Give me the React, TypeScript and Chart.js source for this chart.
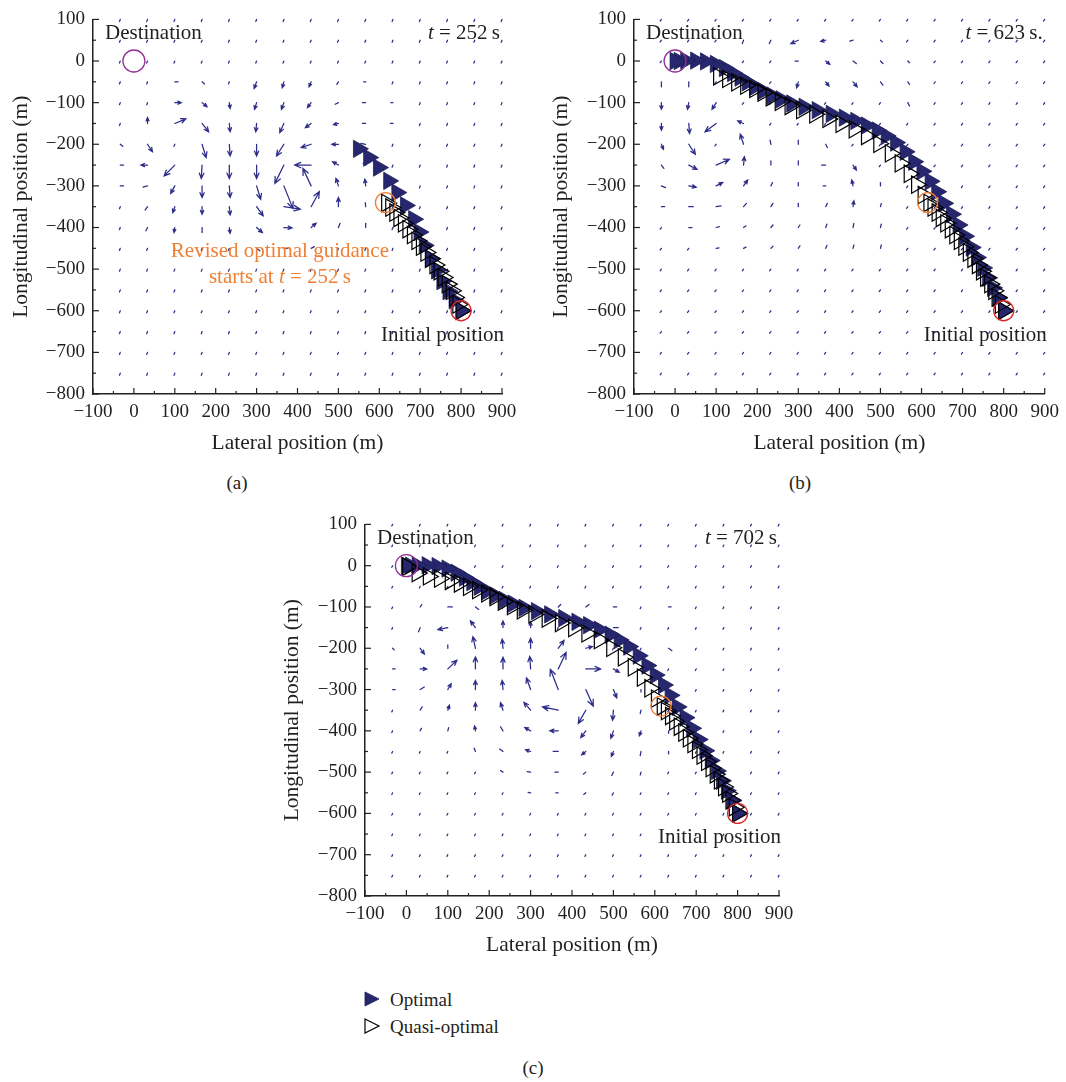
import React, { useEffect, useRef } from 'react';
import { Chart, registerables } from 'chart.js';

Chart.register(...registerables);

const FONT = "'Liberation Serif', 'Times New Roman', serif";
const TEXT = '#231f20';
const NAVY = '#272770';
const ARROW = '#2c2c8a';
const ORANGE = '#ef7f32';
const PURPLE = '#923192';
const RED = '#d62a2a';

// ---- axis ticks ----
const xMin = -100, xMax = 900, xStep = 100;
const yMin = -800, yMax = 100, yStep = 100;

// ---- wind-field sample grid ----
const fieldX = [-33.3, 33.3, 100, 166.7, 233.3, 300, 366.7, 433.3, 500, 566.7, 633.3, 700, 766.7, 833.3, 900];
const fieldY = [100, 50, 0, -50, -100, -150, -200, -250, -300, -350, -400, -450, -500, -550, -600, -650, -700, -750];

// wind vectors [x, y, u, v] (m); other grid points are small drift dots
const windA = [
  [100, -50, 8, 0], [166.7, -50, 6, -5], [300, -50, -6, -16], [366.7, -50, -4, -14], [433.3, -50, -5, -12], [500, -50, -4, -6], [566.7, -50, -5, 0],
  [100, -100, 16, 0], [166.7, -100, 12, -10], [233.3, -100, 2, -14], [300, -100, -5, -16], [366.7, -100, -6, -16], [433.3, -100, -9, -12], [500, -100, -8, -4], [566.7, -100, -8, 0], [633.3, -100, -5, 0],
  [33.3, -150, 0, 14], [100, -150, 27, 11], [166.7, -150, 16, -20], [233.3, -150, 2, -20], [300, -150, -2, -20], [366.7, -150, -10, -22], [433.3, -150, -14, -10], [500, -150, -12, -3], [566.7, -150, -8, 0], [633.3, -150, -6, 0],
  [-33.3, -200, 6, -5], [33.3, -200, 12, -18], [166.7, -200, 10, -32], [233.3, -200, 2, -28], [300, -200, 0, -28], [366.7, -200, -18, -28], [433.3, -200, -24, -8], [500, -200, -16, 0], [566.7, -200, -12, 2],
  [-33.3, -250, 8, 0], [33.3, -250, -16, 0], [100, -250, -26, -26], [166.7, -250, -2, -32], [233.3, -250, 0, -32], [300, -250, 0, -32], [366.7, -250, -22, -44], [433.3, -250, -40, 0], [500, -250, -14, 8], [566.7, -250, -6, 4],
  [-33.3, -300, 8, 0], [33.3, -300, -11, -3], [100, -300, -10, -18], [166.7, -300, 0, -28], [233.3, -300, 2, -28], [300, -300, 10, -32], [366.7, -300, 22, -54], [433.3, -300, -20, 42], [500, -300, -6, 18], [566.7, -300, -2, 16],
  [33.3, -350, -6, -8], [100, -350, -5, -14], [166.7, -350, 0, -18], [233.3, -350, 2, -20], [300, -350, 16, -22], [366.7, -350, 40, -6], [433.3, -350, 20, 36], [500, -350, 0, 22], [566.7, -350, -1, 10],
  [33.3, -400, -4, -8], [100, -400, -2, -12], [166.7, -400, 0, -12], [233.3, -400, 2, -14], [300, -400, 14, -12], [366.7, -400, 20, -1], [433.3, -400, 12, 10], [500, -400, 4, 10], [566.7, -400, 0, 10],
  [300, -450, 8, -6], [366.7, -450, 10, 0], [433.3, -450, 8, 4],
];
const windB = [
  [166.7, 50, -3, -8], [233.3, 50, -4, -8], [300, 50, -18, -8], [366.7, 50, -12, -3], [433.3, 50, -8, -2], [500, 50, 5, -4],
  [300, 0, -8, 0], [366.7, 0, 10, -8], [433.3, 0, 8, -6], [500, 0, 6, -6], [566.7, 0, 4, -4],
  [-33.3, -50, 0, -12], [33.3, -50, 0, -12], [300, -50, -4, -14], [366.7, -50, 8, -10], [433.3, -50, 10, -12], [500, -50, 6, -8], [566.7, -50, 4, -6],
  [-33.3, -100, 0, -16], [33.3, -100, -3, -16], [100, -100, -10, -16], [566.7, -100, 4, -8],
  [-33.3, -150, 0, -16], [33.3, -150, 2, -24], [100, -150, -27, -20], [166.7, -150, -14, 6],
  [-33.3, -200, 5, -12], [33.3, -200, 16, -24], [166.7, -200, -8, 24], [233.3, -200, -2, 10], [300, -200, 0, 10], [366.7, -200, 4, -8],
  [-33.3, -250, 6, -8], [33.3, -250, 20, -10], [100, -250, 32, 14], [166.7, -250, 2, 20], [233.3, -250, 0, 10], [300, -250, 0, 10], [366.7, -250, -10, 0], [433.3, -250, 8, -12],
  [-33.3, -300, 10, -4], [33.3, -300, 18, -3], [100, -300, 16, 8], [166.7, -300, 10, 14], [233.3, -300, 4, 8], [300, -300, 0, 8], [366.7, -300, -6, 0], [433.3, -300, -3, 14], [500, -300, 0, 8],
  [-33.3, -350, 8, 0], [33.3, -350, 11, 0], [100, -350, 12, 2], [166.7, -350, 7, 8], [233.3, -350, 5, 8], [300, -350, 0, 8], [366.7, -350, 4, 8], [433.3, -350, 2, 14], [500, -350, 2, 8],
  [33.3, -400, 8, 0], [100, -400, 8, 2], [166.7, -400, 6, 4], [233.3, -400, 5, 6], [300, -400, 4, 6], [366.7, -400, 3, 8], [433.3, -400, 2, 10], [500, -400, 2, 8],
  [100, -450, 7, 1], [166.7, -450, 6, 3], [233.3, -450, 5, 5], [300, -450, 4, 6], [366.7, -450, 3, 7], [433.3, -450, 2, 8], [500, -450, 2, 8],
];
const windC = [
  [33.3, -100, 4, 6], [100, -100, 11, 0], [166.7, -100, 8, -6], [366.7, -100, 6, 6], [433.3, -100, 8, 6], [500, -100, 8, 0], [633.3, -100, 6, 0],
  [33.3, -150, -4, -10], [100, -150, -24, -5], [166.7, -150, -12, 16], [233.3, -150, 0, 16], [300, -150, 0, 14], [500, -150, 12, 0],
  [-33.3, -200, 4, -4], [33.3, -200, 10, -14], [100, -200, 0, 8], [166.7, -200, -6, 28], [233.3, -200, -2, 22], [300, -200, 0, 24], [366.7, -200, 14, 19], [433.3, -200, 16, 4], [633.3, -200, 8, -6],
  [-33.3, -250, 6, 0], [33.3, -250, 16, 0], [100, -250, 22, 21], [166.7, -250, 0, 29], [233.3, -250, 0, 28], [300, -250, -2, 30], [366.7, -250, 19, 40], [433.3, -250, 36, 0], [500, -250, 14, -8],
  [-33.3, -300, 6, 0], [33.3, -300, 10, 6], [100, -300, 8, 14], [166.7, -300, 0, 22], [233.3, -300, -2, 22], [300, -300, -10, 28], [366.7, -300, -19, 49], [433.3, -300, 18, -40], [500, -300, 8, -20], [566.7, -300, 0, -6],
  [33.3, -350, 5, 8], [100, -350, 4, 12], [166.7, -350, 0, 18], [233.3, -350, -6, 18], [300, -350, -16, 19], [366.7, -350, -38, 8], [433.3, -350, -18, -32], [500, -350, -2, -24], [566.7, -350, -2, -8],
  [33.3, -400, 3, 6], [100, -400, 2, 8], [166.7, -400, -2, 12], [233.3, -400, -6, 10], [300, -400, -14, 8], [366.7, -400, -20, 0], [433.3, -400, -12, -16], [500, -400, -6, -18], [566.7, -400, -4, -12], [633.3, -400, 0, -6],
  [166.7, -450, -3, 8], [233.3, -450, -8, 6], [300, -450, -12, 4], [366.7, -450, -12, 0], [433.3, -450, -10, -8], [500, -450, -5, -12], [566.7, -450, -2, -10], [633.3, -450, 0, -6],
  [233.3, -500, -6, 4], [300, -500, -8, 1], [366.7, -500, -8, 0], [433.3, -500, -6, -5], [500, -500, -4, -8], [566.7, -500, -2, -7],
  [300, -550, -6, 1], [366.7, -550, -6, 0], [433.3, -550, -5, -4], [500, -550, -3, -6],
];
const driftA = [-2, -5];
const driftB = [-3, -4];
const driftC = [-2, -4];

// ---- trajectories ----
const optimalAX = [800, 783, 768, 753, 740, 725, 710, 697, 684, 664, 643, 623, 598, 574, 549];
const optimalAY = [-600, -575, -553, -529, -503, -475, -443, -411, -380, -347, -316, -288, -256, -232, -211];

const optimalX = [800, 786, 773, 761, 749, 734, 721, 705, 689, 673, 654, 637, 621, 601, 581, 560, 537, 514, 492, 466, 440, 412, 380, 346, 314, 284, 258, 236, 214, 194, 176, 158, 140, 120, 98, 74, 50, 26, 10, 0];
const optimalY = [-600, -569, -545, -521, -497, -472, -448, -421, -394, -368, -342, -314, -289, -265, -242, -218, -196, -180, -167, -155, -144, -136, -127, -118, -110, -102, -92, -83, -72, -62, -51, -40, -29, -17, -7, -1, 1, 1, 0, 0];

const quasiStartX = [800, 792, 784, 776, 766, 756, 746, 736, 725, 714, 703, 692, 681, 670, 659, 648, 638, 628, 618];
const quasiStartY = [-600, -585, -568, -552, -536, -520, -505, -490, -475, -460, -446, -432, -418, -404, -390, -377, -364, -352, -341];
const quasiUpperX = [604, 588, 570, 548, 524, 496, 466, 436, 404, 372, 340, 308, 280, 256, 234, 214, 194, 172, 150, 128, 106];
const quasiUpperY = [-322, -297, -271, -246, -222, -199, -180, -164, -151, -139, -128, -118, -108, -98, -87, -76, -67, -59, -51, -43, -37];
const quasiTailX = [80, 53, 26, 3];
const quasiTailY = [-31, -26, -18, -2];

const destination = [0, 0];
const switchPoint = [615, -340];
const initialPoint = [800, -600];

// ---- helpers ----
const pts = (xs: number[], ys: number[]) => xs.map((x, i) => ({ x, y: ys[i] }));
const fmt = (v: any) => { const n = Number(v); return n < 0 ? '\u2212' + Math.abs(n) : String(n); };

function drawArrow(ctx: CanvasRenderingContext2D, x0: number, y0: number, x1: number, y1: number) {
  const dx = x1 - x0, dy = y1 - y0;
  const len = Math.hypot(dx, dy);
  ctx.beginPath();
  ctx.moveTo(x0, y0);
  ctx.lineTo(x1, y1);
  if (len > 5) {
    const a = Math.atan2(dy, dx);
    const h = Math.min(2 + len * 0.28, 7);
    const s = 0.42;
    ctx.moveTo(x1 - h * Math.cos(a - s), y1 - h * Math.sin(a - s));
    ctx.lineTo(x1, y1);
    ctx.lineTo(x1 - h * Math.cos(a + s), y1 - h * Math.sin(a + s));
  }
  ctx.stroke();
}

function makeQuiver(arrows: number[][], drift: number[]) {
  return {
    id: 'quiver',
    beforeDatasetsDraw(chart: any) {
      const { ctx, scales: { x, y } } = chart;
      ctx.save();
      ctx.strokeStyle = ARROW;
      ctx.lineWidth = 1.25;
      ctx.lineCap = 'round';
      for (const gy of fieldY) {
        for (const gx of fieldX) {
          const a = arrows.find(r => Math.abs(r[0] - gx) < 1 && Math.abs(r[1] - gy) < 1);
          const u = a ? a[2] : drift[0];
          const v = a ? a[3] : drift[1];
          drawArrow(ctx, x.getPixelForValue(gx), y.getPixelForValue(gy), x.getPixelForValue(gx + u), y.getPixelForValue(gy + v));
        }
      }
      ctx.restore();
    },
  };
}

const inwardTicks = {
  id: 'inwardTicks',
  afterDraw(chart: any) {
    const { ctx, chartArea: a, scales: { x, y } } = chart;
    ctx.save();
    ctx.strokeStyle = '#222';
    ctx.lineWidth = 1.2;
    const seg = (x0: number, y0: number, x1: number, y1: number) => { ctx.beginPath(); ctx.moveTo(x0, y0); ctx.lineTo(x1, y1); ctx.stroke(); };
    const xt = x.ticks.map((t: any) => t.value);
    xt.forEach((v: number, i: number) => {
      const p = x.getPixelForValue(v);
      seg(p, a.bottom, p, a.bottom - 6);
      if (i < xt.length - 1) { const m = x.getPixelForValue((v + xt[i + 1]) / 2); seg(m, a.bottom, m, a.bottom - 3); }
    });
    const yt = y.ticks.map((t: any) => t.value);
    yt.forEach((v: number, i: number) => {
      const p = y.getPixelForValue(v);
      seg(a.left, p, a.left + 6, p);
      if (i < yt.length - 1) { const m = y.getPixelForValue((v + yt[i + 1]) / 2); seg(a.left, m, a.left + 3, m); }
    });
    ctx.restore();
  },
};

type Seg = { t: string; i?: boolean };
function drawRich(ctx: CanvasRenderingContext2D, segs: Seg[], x: number, y: number, align: string, size: number, color: string) {
  const widths = segs.map(s => { ctx.font = `${s.i ? 'italic ' : ''}${size}px ${FONT}`; return ctx.measureText(s.t).width; });
  const total = widths.reduce((p, c) => p + c, 0);
  let cx = align === 'left' ? x : align === 'right' ? x - total : x - total / 2;
  ctx.textAlign = 'left';
  ctx.textBaseline = 'alphabetic';
  ctx.fillStyle = color;
  segs.forEach((s, i) => {
    ctx.font = `${s.i ? 'italic ' : ''}${size}px ${FONT}`;
    ctx.fillText(s.t, cx, y);
    cx += widths[i];
  });
}

function makeLabels(timeText: string, revised: boolean) {
  return {
    id: 'labels',
    afterDraw(chart: any) {
      const { ctx, chartArea: a, scales: { x, y } } = chart;
      ctx.save();
      drawRich(ctx, [{ t: 'Destination' }], a.left + 12, a.top + 19.5, 'left', 21, TEXT);
      drawRich(ctx, [{ t: 't', i: true }, { t: ' = ' + timeText }], a.right - 2, a.top + 19.5, 'right', 21, TEXT);
      drawRich(ctx, [{ t: 'Initial position' }], x.getPixelForValue(900) + 2, y.getPixelForValue(-672), 'right', 21, TEXT);
      if (revised) {
        drawRich(ctx, [{ t: 'Revised optimal guidance' }], x.getPixelForValue(357), y.getPixelForValue(-470), 'center', 21, ORANGE);
        drawRich(ctx, [{ t: 'starts at ' }, { t: 't', i: true }, { t: ' = 252\u2009s' }], x.getPixelForValue(357), y.getPixelForValue(-534), 'center', 21, ORANGE);
      }
      ctx.restore();
    },
  };
}

function buildConfig(opt: any[], quasi: any[], arrows: number[][], drift: number[], timeText: string, revised: boolean, pad: any, yWidth: number) {
  const circle = (p: number[], color: string, r: number) => ({
    data: [{ x: p[0], y: p[1] }],
    pointStyle: 'circle', pointRadius: r, pointBackgroundColor: 'rgba(0,0,0,0)',
    pointBorderColor: color, pointBorderWidth: 1.3, showLine: false, clip: false,
  });
  return {
    type: 'scatter',
    data: {
      datasets: [
        circle(destination, PURPLE, 11),
        circle(switchPoint, ORANGE, 10),
        circle(initialPoint, RED, 10),
        {
          data: quasi, pointStyle: 'triangle', pointRotation: 90, pointRadius: 10,
          pointBackgroundColor: 'rgba(255,255,255,0)', pointBorderColor: '#000', pointBorderWidth: 1.2, showLine: false, clip: false,
        },
        {
          data: opt, pointStyle: 'triangle', pointRotation: 90, pointRadius: 10,
          pointBackgroundColor: NAVY, pointBorderColor: '#1d1d55', pointBorderWidth: 0.8, showLine: false, clip: false,
        },
      ],
    },
    options: {
      responsive: false,
      animation: false,
      events: [],
      layout: { padding: pad },
      plugins: { legend: { display: false }, tooltip: { enabled: false } },
      scales: {
        x: {
          type: 'linear', min: xMin, max: xMax,
          ticks: { stepSize: xStep, color: TEXT, font: { family: FONT, size: 19 }, padding: 7, callback: fmt, maxRotation: 0, autoSkip: false },
          grid: { display: false, drawTicks: false },
          border: { display: true, color: '#222', width: 1.5 },
          title: { display: true, text: 'Lateral position (m)', color: TEXT, font: { family: FONT, size: 21.5 }, padding: { top: 0, bottom: 0 } },
          afterFit: (s: any) => { s.height = 62; },
        },
        y: {
          type: 'linear', min: yMin, max: yMax,
          ticks: { stepSize: yStep, color: TEXT, font: { family: FONT, size: 19 }, padding: 8, callback: fmt, autoSkip: false },
          grid: { display: false, drawTicks: false },
          border: { display: true, color: '#222', width: 1.5 },
          title: { display: true, text: 'Longitudinal position (m)', color: TEXT, font: { family: FONT, size: 21.5 }, padding: { top: 8, bottom: 0 } },
          afterFit: (s: any) => { s.width = yWidth; },
        },
      },
    },
    plugins: [makeQuiver(arrows, drift), inwardTicks, makeLabels(timeText, revised)],
  };
}

function Panel({ make, left, top, width, height }: any) {
  const ref = useRef<HTMLCanvasElement>(null);
  useEffect(() => {
    const chart = new Chart(ref.current as HTMLCanvasElement, make() as any);
    return () => chart.destroy();
  }, []);
  return <canvas ref={ref} width={width} height={height} style={{ position: 'absolute', left, top, width, height }} />;
}

const textStyle = (left: number, top: number, extra: any = {}) => ({
  position: 'absolute' as const, left, top, fontFamily: FONT, fontSize: 19, lineHeight: '19px', color: TEXT, whiteSpace: 'nowrap' as const, ...extra,
});

export default function App() {
  const quasiA = pts(quasiStartX, quasiStartY);
  const quasiB = pts([...quasiStartX, ...quasiUpperX], [...quasiStartY, ...quasiUpperY]);
  const quasiC = pts([...quasiStartX, ...quasiUpperX, ...quasiTailX], [...quasiStartY, ...quasiUpperY, ...quasiTailY]);
  const optA = pts(optimalAX, optimalAY);
  const optBC = pts(optimalX, optimalY);
  return (
    <div style={{ position: 'absolute', left: 0, top: 0, width: 1066, height: 1082, background: '#fff' }}>
      <Panel left={0} top={0} width={530} height={470}
        make={() => buildConfig(optA, quasiA, windA, driftA, '252\u2009s', true, { left: 0, top: 15, right: 28, bottom: 14 }, 93)} />
      <Panel left={540} top={0} width={526} height={470}
        make={() => buildConfig(optBC, quasiB, windB, driftB, '623\u2009s.', false, { left: 0, top: 14, right: 19, bottom: 14 }, 94)} />
      <Panel left={271} top={505} width={530} height={470}
        make={() => buildConfig(optBC, quasiC, windC, driftC, '702\u2009s', false, { left: 0, top: 14, right: 22, bottom: 17 }, 94)} />
      <div style={textStyle(187, 473, { width: 100, textAlign: 'center' })}>(a)</div>
      <div style={textStyle(750, 473, { width: 100, textAlign: 'center' })}>(b)</div>
      <div style={textStyle(483, 1058, { width: 100, textAlign: 'center' })}>(c)</div>
      <svg style={{ position: 'absolute', left: 360, top: 986, width: 24, height: 52 }} width={24} height={52}>
        <polygon points="5,6 19,13 5,20" fill={NAVY} stroke="#1d1d55" strokeWidth={0.8} />
        <polygon points="5,33 19,40 5,47" fill="none" stroke="#000" strokeWidth={1.2} />
      </svg>
      <div style={textStyle(390, 990)}>Optimal</div>
      <div style={textStyle(390, 1017)}>Quasi-optimal</div>
    </div>
  );
}
